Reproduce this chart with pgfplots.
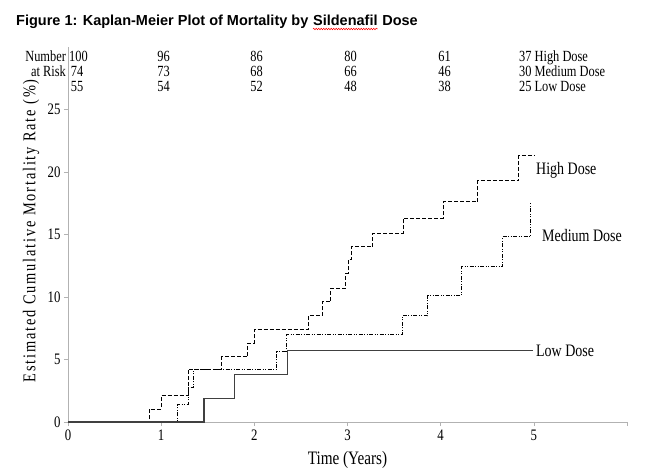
\documentclass[border=0pt]{standalone}
\usepackage{pgfplots}
\pgfplotsset{compat=1.18}
\usepackage{fontspec}
\usetikzlibrary{decorations.pathmorphing}
\newfontfamily\titlefont{Liberation Sans}
\newfontfamily\cf{Liberation Serif}[FakeStretch=0.8]
\newfontfamily\cfsp{Liberation Serif}[FakeStretch=0.8,LetterSpace=10]

\begin{document}
\begin{tikzpicture}
\useasboundingbox (-68pt,-52pt) rectangle (599pt,422pt);

% title (with the spell-check squiggle under Sildenafil)
\node[anchor=base west,inner sep=0,font=\titlefont\bfseries\fontsize{14.5}{17}\selectfont] (t1) at (-52pt,396pt) {Figure 1: Kaplan-Meier Plot of Mortality by\hspace{0.3em}\strut};
\node[anchor=base west,inner sep=0,font=\titlefont\bfseries\fontsize{14.5}{17}\selectfont] (t2) at (t1.base east) {Sildenafil};
\node[anchor=base west,inner sep=0,font=\titlefont\bfseries\fontsize{14.5}{17}\selectfont] (t3) at (t2.base east) {\strut\hspace{0.3em}Dose};
\draw[red,line width=0.5pt,decorate,decoration={snake,amplitude=0.8pt,segment length=2.5pt}]
  ([yshift=-3pt]t2.base west) -- ([yshift=-3pt]t2.base east);

\begin{axis}[
  at={(0pt,0pt)}, anchor=south west,
  scale only axis, width=559pt, height=375pt,
  xmin=0, xmax=6, ymin=0, ymax=30,
  axis x line*=bottom, axis y line*=left,
  axis line style={gray!60,line width=0.6pt},
  xtick={0,...,6}, xticklabels={0,1,2,3,4,5,{}},
  ytick={0,5,...,25},
  tick align=outside, major tick length=4pt,
  tick style={gray!60,line width=0.6pt},
  tick label style={font=\cf\fontsize{16}{16}\selectfont},
  /pgf/number format/assume math mode=true,
  xlabel={Time (Years)},
  xlabel style={font=\cf\fontsize{19}{19}\selectfont,at={(axis description cs:0.5,-0.101)},anchor=center},
  ylabel={Estimated Cumulative Mortality Rate (\%)},
  ylabel style={font=\cfsp\fontsize{18}{18}\selectfont,at={(axis description cs:-0.066,0.51)},anchor=center},
  clip=false,
]
% High dose
\addplot[const plot, black, line width=1pt, dash pattern=on 4pt off 2pt] coordinates {
 (0,0) (0.87,1.04) (1.00,2.1) (1.29,4.2) (1.65,5.2) (1.93,6.3) (2.00,7.4)
 (2.58,8.5) (2.73,9.6) (2.82,10.7) (2.98,11.9) (3.01,13.0) (3.04,14.0)
 (3.27,15.1) (3.60,16.3) (4.03,17.6) (4.40,19.3) (4.84,21.3) (5.00,21.3)
};
% Medium dose
\addplot[const plot, black, line width=1pt, dash pattern=on 4pt off 1.5pt on 1pt off 1.5pt on 1pt off 1.5pt] coordinates {
 (0,0) (1.18,1.44) (1.29,2.8) (1.35,4.2) (2.24,5.6) (2.35,7.0)
 (3.59,8.5) (3.86,10.1) (4.22,12.4) (4.66,14.8) (4.96,17.6)
};
% Low dose
\addplot[const plot, black!75, line width=1.2pt] coordinates {
 (0,0) (1.46,1.9) (1.79,3.8) (2.36,5.7) (4.99,5.7)
};

% curve labels
\node[anchor=base west,inner sep=0,font=\cf\fontsize{17.5}{17.5}\selectfont] at (axis cs:5.023,19.76) {High Dose};
\node[anchor=base west,inner sep=0,font=\cf\fontsize{17.5}{17.5}\selectfont] at (axis cs:5.087,14.4) {Medium Dose};
\node[anchor=base west,inner sep=0,font=\cf\fontsize{17.5}{17.5}\selectfont] at (axis cs:5.023,5.2) {Low Dose};

% number at risk
\begin{scope}[every node/.style={inner sep=0,font=\cf\fontsize{15.5}{15.5}\selectfont}]
\node[anchor=base east] at (axis cs:-0.02,28.85) {Number};
\node[anchor=base east] at (axis cs:-0.02,27.65) {at Risk};
\node[anchor=base west] at (axis cs:0.01,28.85) {100};
\node[anchor=base east] at (axis cs:0.166,27.65) {74};
\node[anchor=base east] at (axis cs:0.166,26.45) {55};
\node[anchor=base east] at (axis cs:1.095,28.85) {96};
\node[anchor=base east] at (axis cs:1.095,27.65) {73};
\node[anchor=base east] at (axis cs:1.095,26.45) {54};
\node[anchor=base east] at (axis cs:2.093,28.85) {86};
\node[anchor=base east] at (axis cs:2.093,27.65) {68};
\node[anchor=base east] at (axis cs:2.093,26.45) {52};
\node[anchor=base east] at (axis cs:3.102,28.85) {80};
\node[anchor=base east] at (axis cs:3.102,27.65) {66};
\node[anchor=base east] at (axis cs:3.102,26.45) {48};
\node[anchor=base east] at (axis cs:4.111,28.85) {61};
\node[anchor=base east] at (axis cs:4.111,27.65) {46};
\node[anchor=base east] at (axis cs:4.111,26.45) {38};
\node[anchor=base west] at (axis cs:4.84,28.85) {37 High Dose};
\node[anchor=base west] at (axis cs:4.84,27.65) {30 Medium Dose};
\node[anchor=base west] at (axis cs:4.84,26.45) {25 Low Dose};
\end{scope}
\end{axis}
\end{tikzpicture}
\end{document}
